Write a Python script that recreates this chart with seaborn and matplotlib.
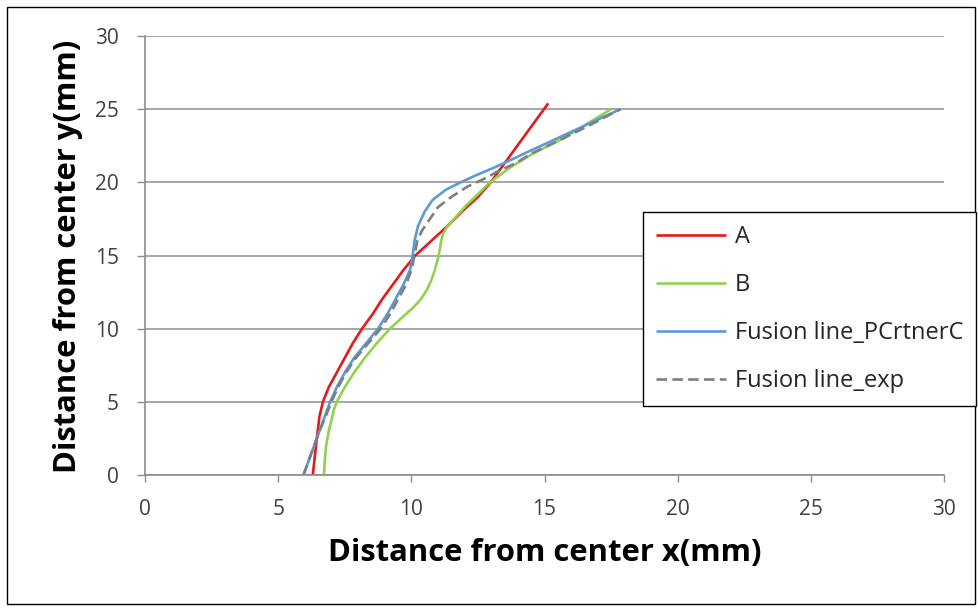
import matplotlib
matplotlib.use("Agg")
import matplotlib.pyplot as plt
from matplotlib.patches import Rectangle
import seaborn as sns
import pandas as pd

# Series read as (x, y) pairs in mm
a_y = [0, 2, 4, 5, 6, 7, 8, 9, 10, 11, 12, 13, 14, 15, 16, 17, 18, 19, 20, 21, 22, 23, 24, 25.4]
a_x = [6.3, 6.42, 6.55, 6.68, 6.9, 7.2, 7.5, 7.8, 8.15, 8.55, 8.9, 9.3, 9.7, 10.15, 10.75, 11.35,
       11.9, 12.5, 12.98, 13.38, 13.78, 14.18, 14.58, 15.14]

b_y = [0, 1, 2, 3, 3.75, 4.5, 5, 6, 7, 8, 9, 10, 11, 11.5, 12, 12.6, 13.3, 14, 14.8, 15.5, 16,
       16.5, 17, 18, 18.5, 19, 20, 21, 22, 23, 24, 25]
b_x = [6.72, 6.75, 6.8, 6.9, 7.0, 7.1, 7.2, 7.5, 7.85, 8.25, 8.7, 9.2, 9.8, 10.1, 10.35, 10.57,
       10.75, 10.88, 11.0, 11.08, 11.12, 11.2, 11.35, 11.85, 12.1, 12.4, 12.95, 13.7, 14.6, 15.7,
       16.6, 17.5]

c_y = [0, 1, 2, 3, 4, 5, 6, 7, 8, 9, 10, 11, 12, 13, 14, 15, 16, 17, 18, 18.8, 19.5, 20, 20.5,
       21, 21.5, 22, 23, 24, 25]
c_x = [5.95, 6.15, 6.35, 6.55, 6.75, 6.95, 7.2, 7.5, 7.85, 8.3, 8.75, 9.1, 9.4, 9.7, 9.95, 10.05,
       10.12, 10.25, 10.5, 10.8, 11.3, 11.85, 12.45, 13.1, 13.7, 14.28, 15.47, 16.66, 17.85]

e_y = [0, 1, 2, 3, 4, 5, 6, 7, 8, 9, 10, 11, 12, 13, 14, 15, 16, 16.7, 17.5, 18.3, 19, 19.7, 20.3,
       20.7, 21.3, 22, 23, 24, 25]
e_x = [5.95, 6.15, 6.35, 6.55, 6.78, 7.0, 7.25, 7.55, 7.92, 8.38, 8.85, 9.2, 9.5, 9.8, 10.0, 10.12,
       10.22, 10.4, 10.7, 11.0, 11.5, 12.1, 12.8, 13.2, 13.9, 14.55, 15.7, 16.8, 17.85]

series_names = ["A", "B", "Fusion line_PCrtnerC", "Fusion line_exp"]
series_colors = ["#e3191c", "#92d050", "#5b9bd5", "#7f7f7f"]
series_dashes = [None, None, None, (4, 2)]

x_ticks = [0, 5, 10, 15, 20, 25, 30]
y_ticks = [0, 5, 10, 15, 20, 25, 30]

sns.set_theme(style="white")
plt.rcParams["font.family"] = ["Open Sans", "DejaVu Sans"]

W, H = 979, 608
fig = plt.figure(figsize=(W / 100, H / 100), dpi=100)
ax = fig.add_axes([145 / W, (H - 475) / H, (944 - 145) / W, (475 - 36) / H])

frames = []
for name, xs, ys in zip(series_names, [a_x, b_x, c_x, e_x], [a_y, b_y, c_y, e_y]):
    frames.append(pd.DataFrame({"x": xs, "y": ys, "series": name}))
df = pd.concat(frames, ignore_index=True)

for name, color, dash in zip(series_names, series_colors, series_dashes):
    sub = df[df["series"] == name]
    sns.lineplot(data=sub, x="x", y="y", sort=False, estimator=None, ax=ax,
                 label=name, color=color, lw=1.9, solid_capstyle="butt")
    if dash is not None:
        ax.lines[-1].set_dashes(dash)

ax.set_xlim(0, 30)
ax.set_ylim(0, 30)
ax.set_xticks(x_ticks)
ax.set_yticks(y_ticks)

grid_color = "#a6a6a6"
ax.yaxis.grid(True, color=grid_color, lw=1.4)
ax.xaxis.grid(False)
ax.set_axisbelow(True)
for side in ["top", "right"]:
    ax.spines[side].set_visible(False)
for side in ["left", "bottom"]:
    ax.spines[side].set_color("#8c8c8c")
    ax.spines[side].set_linewidth(1.2)

ax.tick_params(axis="x", direction="out", length=5, width=1.0, color="#8c8c8c",
               pad=12, labelsize=15, labelcolor="#404040", bottom=True)
ax.tick_params(axis="y", direction="out", length=6, width=1.0, color="#8c8c8c",
               pad=13, labelsize=15, labelcolor="#404040", left=True)

ax.set_xlabel("Distance from center x(mm)", fontsize=22.3, fontweight="bold", color="black")
ax.set_ylabel("Distance from center y(mm)", fontsize=22.3, fontweight="bold", color="black")
ax.xaxis.set_label_coords((545 - 145) / (944 - 145), (475 - 553) / (475 - 36))
ax.yaxis.set_label_coords((68 - 145) / (944 - 145), (475 - 256) / (475 - 36))
ax.xaxis.label.set_va("center")
ax.yaxis.label.set_va("center")

ax.get_legend().remove()
handles, labels = ax.get_legend_handles_labels()
leg = fig.legend(handles, labels, loc="upper left",
                 bbox_to_anchor=(643 / W, 1 - 212 / H), borderaxespad=0,
                 frameon=True, fancybox=False, shadow=False, fontsize=17,
                 handlelength=2.95, handletextpad=0.38, labelspacing=1.02,
                 borderpad=0.55, framealpha=1)
leg.get_frame().set_edgecolor("black")
leg.get_frame().set_linewidth(1.0)

# outer frame of the chart area
fig.patches.append(Rectangle((7 / W, 4 / H), (975 - 7) / W, (601 - 4) / H,
                             transform=fig.transFigure, fill=False, edgecolor="black",
                             lw=1.0))

fig.savefig("out.png", dpi=100)
